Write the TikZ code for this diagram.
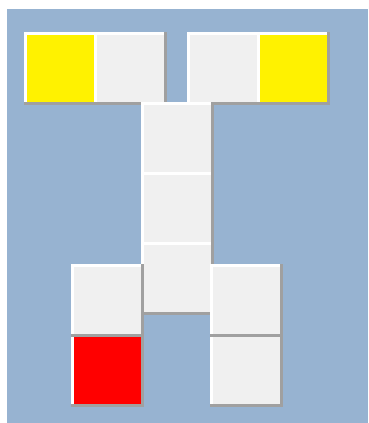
\documentclass[tikz,border=0pt]{standalone}
\usepackage{tikz}
\usetikzlibrary{positioning,shadows}
\definecolor{bg}{RGB}{151,179,209}
\definecolor{tile}{RGB}{240,240,240}
\definecolor{edge}{RGB}{160,160,160}
\begin{document}
\begin{tikzpicture}[x=1pt, y=-1pt,
	   cell/.style={minimum size=67pt, inner sep=0pt, outer sep=0pt, fill=#1,
	     general shadow={fill=edge, shadow scale=1.0896},
	     general shadow={fill=white, shadow scale=1.0448, shadow xshift=-1.5pt, shadow yshift=1.5pt}},
	   cell/.default=tile]
	  \useasboundingbox (0,0) rectangle (368,423);
	  \fill[bg] (7,9) rectangle (368,423);
	  \node[cell=yellow, anchor=north west] (yl) at (27,35) {};
	  \node[cell, right=3pt of yl] (gl) {};
	  \node[cell, anchor=north west] (gr) at (190,35) {};
	  \node[cell=yellow, right=3pt of gr] (yr) {};
	  \node[cell, anchor=north west] (c1) at (144,105) {};
	  \node[cell, below=3pt of c1] (c2) {};
	  \node[cell, below=3pt of c2] (c3) {};
	  \node[cell=red, anchor=north west] (rd) at (74,337) {};
	  \node[cell, above=3pt of rd] (l1) {};
	  \node[cell, anchor=north west] (r2) at (213,337) {};
	  \node[cell, above=3pt of r2] (r1) {};
	\end{tikzpicture}
\end{document}
